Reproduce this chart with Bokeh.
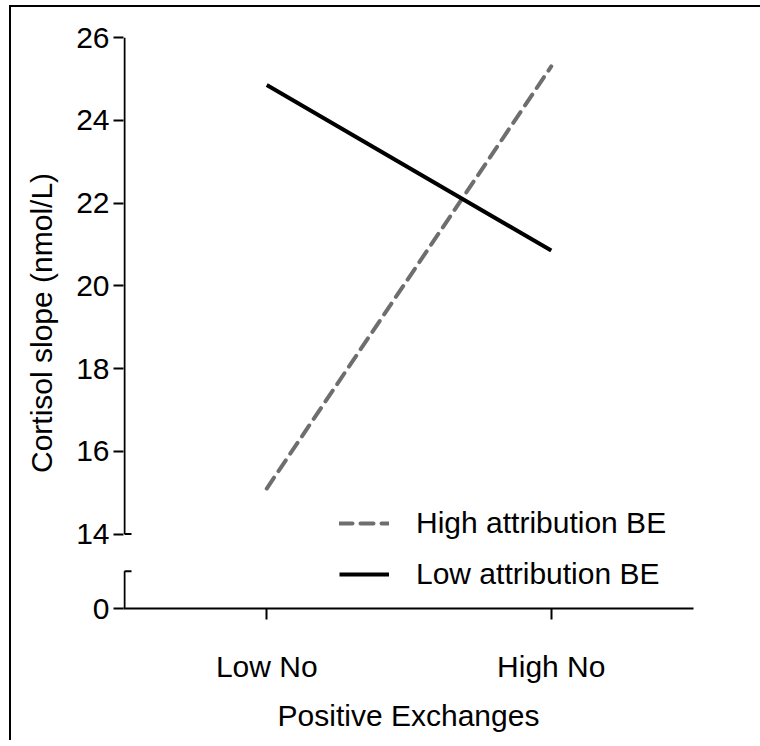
from bokeh.plotting import figure
from bokeh.models import FixedTicker, Legend, LegendItem
from bokeh.embed import file_html
from bokeh.resources import INLINE

# ---- data ----
categories = ["Low No", "High No"]
high_attr = [15.1, 25.3]     # High attribution BE (dashed)
low_attr = [24.85, 20.85]    # Low attribution BE (solid)
y_tick_values = [0, 14, 16, 18, 20, 22, 24, 26]
x_title = "Positive Exchanges"
y_title = "Cortisol slope (nmol/L)"

# ---- broken-axis mapping ----
UPPER_START = 14.0      # first value on upper segment
UPPER_DISPLAY = 1.8     # display position of UPPER_START
LOWER_CAP_DISPLAY = 0.9 # top of lower segment


def to_disp(v):
    return v if v < UPPER_START else v - UPPER_START + UPPER_DISPLAY


x_pos = list(range(len(categories)))
y_top = to_disp(max(y_tick_values))

FONT = "Liberation Sans"
FS = "30px"

px_per_x = 568 / 2.0035
x_start = -0.5 - 1 / px_per_x

p = figure(width=751, height=735, output_backend="svg", toolbar_location=None,
           x_range=(x_start, 1.5), y_range=(0, y_top),
           min_border_left=112, min_border_right=69,
           min_border_top=30, min_border_bottom=134)
p.styles = {"border-left": "2px solid black", "border-top": "2px solid black",
            "box-sizing": "border-box", "margin-left": "9px", "margin-top": "5px"}
p.outline_line_color = None
p.xgrid.visible = False
p.ygrid.visible = False
p.background_fill_color = "white"
p.border_fill_color = "white"

# axes
xa = p.xaxis[0]
xa.ticker = FixedTicker(ticks=x_pos)
xa.major_label_overrides = {i: c for i, c in zip(x_pos, categories)}
xa.minor_tick_line_color = None
xa.major_tick_out = 11
xa.major_tick_in = 0
xa.major_tick_line_width = 2
xa.axis_line_width = 2
xa.major_label_standoff = 30
xa.major_label_text_font = FONT
xa.major_label_text_font_size = FS
xa.major_label_text_color = "black"
xa.axis_label = x_title
xa.axis_label_text_font = FONT
xa.axis_label_text_font_size = FS
xa.axis_label_text_font_style = "normal"
xa.axis_label_text_color = "black"
xa.axis_label_standoff = 13

ya = p.yaxis[0]
disp_ticks = [to_disp(v) for v in y_tick_values]
ya.ticker = FixedTicker(ticks=disp_ticks)
ya.major_label_overrides = {d: str(v) for d, v in zip(disp_ticks, y_tick_values)}
ya.axis_line_color = None
ya.minor_tick_line_color = None
ya.major_tick_out = 10
ya.major_tick_in = 0
ya.major_tick_line_width = 2
ya.major_label_standoff = 4
ya.major_label_text_font = FONT
ya.major_label_text_font_size = FS
ya.major_label_text_color = "black"
ya.axis_label = y_title
ya.axis_label_text_font = FONT
ya.axis_label_text_font_size = FS
ya.axis_label_text_font_style = "normal"
ya.axis_label_text_color = "black"
ya.axis_label_standoff = 15

# broken y-axis line pieces
cap = 7 / px_per_x
p.segment(x0=[-0.5, -0.5, -0.5, -0.5], y0=[0, UPPER_DISPLAY, LOWER_CAP_DISPLAY, UPPER_DISPLAY],
          x1=[-0.5, -0.5, -0.5 + cap, -0.5 + cap], y1=[LOWER_CAP_DISPLAY, y_top, LOWER_CAP_DISPLAY, UPPER_DISPLAY],
          line_color="black", line_width=2)

r_high = p.line(x_pos, [to_disp(v) for v in high_attr], line_color="#6e6e6e", line_width=4,
                line_dash="13 8", line_cap="round")
r_low = p.line(x_pos, [to_disp(v) for v in low_attr], line_color="black", line_width=4)

legend = Legend(items=[LegendItem(label="High attribution BE", renderers=[r_high]),
                       LegendItem(label="Low attribution BE", renderers=[r_low])],
                location=(216, 14), orientation="vertical",
                border_line_color=None, background_fill_alpha=0,
                padding=0, margin=0, spacing=11,
                glyph_width=50, glyph_height=40, label_height=40,
                label_standoff=27, label_text_font=FONT, label_text_font_size=FS,
                label_text_color="black")
p.add_layout(legend, "center")

open("out.html", "w").write(file_html(p, INLINE))
